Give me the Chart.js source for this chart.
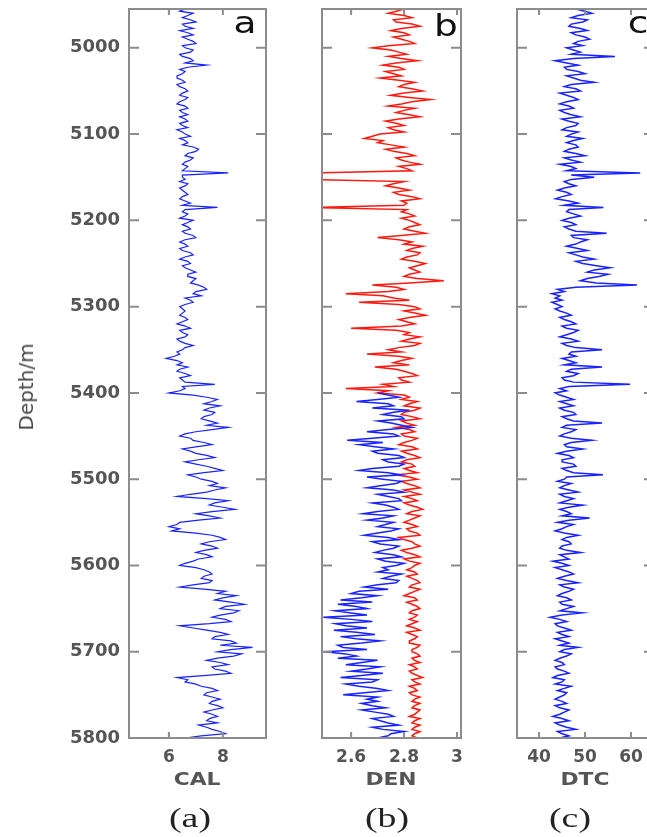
<!DOCTYPE html>
<html>
<head>
<meta charset="utf-8">
<script src="https://cdn.jsdelivr.net/npm/chart.js@4.4.1/dist/chart.umd.min.js"></script>
<style>
html,body{margin:0;padding:0;background:#fff;}
body{width:647px;height:837px;overflow:hidden;position:relative;}
canvas{position:absolute;top:0;}
.t{position:absolute;white-space:nowrap;line-height:1;}
.ax{font-family:"DejaVu Sans";font-weight:bold;font-size:17px;color:#555;transform:translate(-50%,-50%) scaleX(1.28);}
.cap{font-family:"Liberation Serif";font-size:27px;color:#222;transform:translate(-50%,-50%) scaleX(1.4);}
</style>
</head>
<body>
<canvas id="ca" style="left:0px;width:276px;height:837px" width="276" height="837"></canvas>
<canvas id="cb" style="left:312px;width:160px;height:837px" width="160" height="837"></canvas>
<canvas id="cc" style="left:507px;width:160px;height:837px" width="160" height="837"></canvas>

<div class="t" style="left:26px;top:387px;font-family:'DejaVu Sans';font-size:20px;color:#444;transform:translate(-50%,-50%) rotate(-90deg);">Depth/m</div>
<div class="t ax" style="left:197px;top:779px;">CAL</div>
<div class="t ax" style="left:391px;top:779px;">DEN</div>
<div class="t ax" style="left:585px;top:779px;">DTC</div>
<div class="t cap" style="left:190px;top:818px;">(a)</div>
<div class="t cap" style="left:387px;top:818px;">(b)</div>
<div class="t cap" style="left:570px;top:818px;">(c)</div>

<script>
// ---------------- DATA ----------------
// sample depths (m), 5 m grid; readings between two samples are in the *Mid arrays
const depth = [
4955,4960,4965,4970,4975,4980,4985,4990,4995,5000,
5005,5010,5015,5020,5025,5030,5035,5040,5045,5050,
5055,5060,5065,5070,5075,5080,5085,5090,5095,5100,
5105,5110,5115,5120,5125,5130,5135,5140,5145,5150,
5155,5160,5165,5170,5175,5180,5185,5190,5195,5200,
5205,5210,5215,5220,5225,5230,5235,5240,5245,5250,
5255,5260,5265,5270,5275,5280,5285,5290,5295,5300,
5305,5310,5315,5320,5325,5330,5335,5340,5345,5350,
5355,5360,5365,5370,5375,5380,5385,5390,5395,5400,
5405,5410,5415,5420,5425,5430,5435,5440,5445,5450,
5455,5460,5465,5470,5475,5480,5485,5490,5495,5500,
5505,5510,5515,5520,5525,5530,5535,5540,5545,5550,
5555,5560,5565,5570,5575,5580,5585,5590,5595,5600,
5605,5610,5615,5620,5625,5630,5635,5640,5645,5650,
5655,5660,5665,5670,5675,5680,5685,5690,5695,5700,
5705,5710,5715,5720,5725,5730,5735,5740,5745,5750,
5755,5760,5765,5770,5775,5780,5785,5790,5795,5800
];

const cal = [
6.6,6.9,6.5,7.0,6.6,6.4,6.9,6.7,7.0,6.6,
6.8,6.5,6.9,7.4,6.4,6.5,6.3,6.6,6.4,6.7,
6.4,6.6,6.3,6.7,6.5,6.4,6.7,6.5,6.3,6.6,
6.4,6.7,6.9,7.0,6.6,6.8,6.5,6.6,8.2,6.5,
6.4,6.6,6.5,6.7,6.4,6.8,7.8,6.5,6.6,6.9,
6.5,6.8,6.6,7.0,6.4,6.7,6.5,6.9,6.4,6.8,
6.6,7.0,6.7,6.9,7.1,7.4,6.9,6.6,6.9,6.4,
6.6,6.4,6.7,6.3,6.8,6.5,6.6,6.4,6.9,6.5,
6.4,5.9,6.5,6.7,6.3,6.8,6.5,7.7,6.6,6.0,
7.4,7.6,7.9,7.3,7.6,7.2,7.8,8.2,7.0,6.4,
6.9,7.6,6.5,7.0,7.7,6.6,7.4,8.0,6.7,7.2,
7.8,8.1,7.4,6.3,8.2,7.5,8.45,7.0,7.9,6.4,
6.0,6.1,7.6,8.1,7.2,7.8,7.0,7.6,6.9,6.4,
7.3,7.6,7.2,7.5,6.4,8.1,8.5,7.7,8.8,7.9,
8.4,7.6,8.3,6.4,7.4,8.2,7.6,8.5,9.1,7.8,
8.4,7.4,8.2,7.7,8.3,6.3,6.6,7.2,7.8,7.3,
7.9,7.5,8.0,7.3,7.8,7.4,7.1,7.6,8.1,6.6
];
const calMid = [
6.4,6.7,6.8,6.5,6.9,6.7,6.5,6.9,6.5,6.9,
6.4,6.8,6.6,6.7,6.6,6.3,6.5,6.3,6.6,6.5,
6.7,6.4,6.6,6.4,6.7,6.6,6.4,6.7,6.5,6.8,
6.6,6.5,7.1,6.7,6.9,6.6,6.7,6.5,6.5,6.6,
6.7,6.4,6.6,6.5,6.6,6.5,6.6,6.7,6.4,6.7,
6.7,6.5,6.9,6.6,6.6,6.4,6.8,6.6,6.7,6.5,
6.8,6.7,7.0,6.8,7.3,7.0,7.2,6.8,6.6,6.5,
6.5,6.6,6.5,6.6,6.4,6.7,6.3,6.6,6.6,6.3,
6.2,6.3,6.3,6.4,6.6,6.4,6.6,6.5,6.4,6.9,
7.8,7.3,7.5,7.7,7.3,7.5,7.4,7.6,6.6,6.8,
7.3,7.0,6.8,7.4,7.1,7.0,7.7,7.3,7.0,7.6,
7.5,7.7,6.8,7.4,7.7,8.0,7.6,7.5,7.1,6.3,
6.4,7.0,7.9,7.5,7.6,7.3,7.4,7.1,6.6,7.0,
7.5,7.3,7.6,6.9,7.3,7.8,8.0,8.3,8.1,8.6,
7.9,8.1,7.5,6.9,7.9,7.7,8.3,7.9,8.3,8.7,
7.8,7.9,7.6,8.1,7.4,6.7,7.0,7.6,7.4,7.6,
7.6,7.8,7.6,7.6,7.5,7.8,7.4,7.9,7.2
];

const denRed = [
2.80,2.74,2.83,2.77,2.86,2.75,2.82,2.79,2.84,2.68,
2.78,2.74,2.85,2.72,2.80,2.76,2.71,2.84,2.78,2.87,
2.75,2.90,2.79,2.84,2.77,2.86,2.73,2.80,2.76,2.71,
2.65,2.70,2.80,2.76,2.84,2.79,2.86,2.81,2.45,2.45,
2.80,2.73,2.82,2.78,2.86,2.81,2.45,2.79,2.84,2.82,
2.86,2.80,2.88,2.70,2.83,2.87,2.81,2.85,2.79,2.88,
2.82,2.86,2.80,2.95,2.68,2.80,2.58,2.76,2.63,2.84,
2.80,2.88,2.78,2.84,2.60,2.82,2.86,2.79,2.84,2.74,
2.66,2.83,2.76,2.69,2.80,2.85,2.79,2.72,2.58,2.70,
2.82,2.85,2.80,2.84,2.79,2.86,2.81,2.77,2.84,2.80,
2.83,2.78,2.85,2.81,2.86,2.79,2.84,2.82,2.77,2.85,
2.81,2.86,2.83,2.80,2.85,2.82,2.87,2.81,2.84,2.80,
2.85,2.82,2.86,2.80,2.84,2.83,2.81,2.86,2.82,2.84,
2.81,2.85,2.83,2.86,2.82,2.84,2.80,2.85,2.83,2.86,
2.82,2.84,2.85,2.81,2.86,2.83,2.84,2.82,2.85,2.83,
2.86,2.84,2.82,2.85,2.83,2.87,2.84,2.82,2.85,2.83,
2.84,2.86,2.83,2.85,2.82,2.84,2.86,2.83,2.84,2.85
];
const denRedMid = [
2.77,2.80,2.76,2.83,2.79,2.80,2.76,2.82,2.74,2.75,
2.81,2.79,2.77,2.78,2.73,2.79,2.78,2.80,2.83,2.80,
2.82,2.83,2.74,2.80,2.82,2.78,2.77,2.74,2.80,2.68,
2.72,2.75,2.73,2.81,2.77,2.82,2.78,2.83,2.45,2.45,
2.76,2.78,2.76,2.83,2.79,2.80,2.81,2.82,2.79,2.84,
2.82,2.84,2.79,2.78,2.80,2.83,2.86,2.81,2.84,2.85,
2.84,2.82,2.85,2.82,2.77,2.74,2.72,2.82,2.78,2.86,
2.84,2.82,2.81,2.79,2.77,2.80,2.82,2.86,2.78,2.79,
2.78,2.79,2.82,2.77,2.83,2.78,2.82,2.76,2.74,2.80,
2.79,2.82,2.86,2.80,2.83,2.79,2.84,2.82,2.79,2.85,
2.80,2.83,2.79,2.84,2.81,2.83,2.80,2.85,2.82,2.79,
2.84,2.80,2.86,2.83,2.80,2.85,2.83,2.86,2.82,2.83,
2.81,2.85,2.78,2.83,2.86,2.79,2.84,2.80,2.86,2.83,
2.84,2.81,2.85,2.83,2.86,2.82,2.84,2.81,2.85,2.83,
2.85,2.82,2.83,2.84,2.81,2.85,2.82,2.86,2.83,2.85,
2.83,2.86,2.84,2.82,2.85,2.83,2.86,2.84,2.82,2.86,
2.83,2.84,2.86,2.84,2.86,2.83,2.84,2.86,2.83
];

// blue density curve starts at 5400 m
const denBlueStartDepth = 5400;
const denBlue = [
2.70,
2.78,2.62,2.76,2.82,2.72,2.80,2.75,2.83,2.66,2.78,
2.585,2.63,2.76,2.70,2.80,2.74,2.78,2.63,2.79,2.72,
2.77,2.66,2.80,2.74,2.79,2.73,2.78,2.645,2.72,2.76,
2.70,2.75,2.65,2.78,2.71,2.76,2.69,2.79,2.73,2.77,
2.74,2.79,2.72,2.77,2.65,2.63,2.70,2.56,2.55,2.66,
2.60,2.495,2.68,2.58,2.535,2.69,2.62,2.64,2.57,2.50,
2.62,2.70,2.58,2.66,2.72,2.56,2.68,2.63,2.74,2.57,
2.66,2.64,2.73,2.69,2.76,2.71,2.78,2.72,2.75,2.70
];
const denBlueMid = [
2.74,
2.70,2.74,2.68,2.76,2.79,2.70,2.79,2.74,2.76,2.68,
2.72,2.69,2.68,2.78,2.72,2.80,2.68,2.74,2.66,2.79,
2.71,2.76,2.70,2.78,2.68,2.76,2.70,2.76,2.66,2.73,
2.78,2.70,2.74,2.68,2.78,2.72,2.76,2.70,2.80,2.72,
2.70,2.75,2.78,2.70,2.74,2.60,2.64,2.68,2.62,2.54,
2.66,2.60,2.54,2.66,2.62,2.56,2.71,2.55,2.66,2.58,
2.55,2.64,2.71,2.60,2.64,2.70,2.58,2.70,2.65,2.70,
2.70,2.68,2.64,2.74,2.68,2.74,2.68,2.80,2.74
];

const dtc = [
48.0,51.5,47.0,49.5,46.5,50.5,48.0,51.0,47.5,46.0,
49.0,56.5,43.5,48.5,46.0,50.0,47.5,52.0,45.5,49.0,
46.0,48.5,44.5,47.5,45.5,49.0,46.5,48.0,45.0,47.0,
49.5,46.0,48.5,45.5,50.0,47.0,44.5,48.0,62.0,52.0,
45.5,48.0,44.0,47.0,43.6,48.5,54.0,46.0,49.0,45.0,
48.0,46.5,54.7,47.5,49.0,46.0,50.5,48.0,52.0,49.5,
55.5,50.5,53.0,49.0,61.3,44.0,42.8,43.5,42.8,45.0,
44.5,47.0,45.5,48.0,46.0,47.5,44.5,48.5,46.0,53.7,
46.5,45.0,48.0,53.7,46.0,47.5,45.5,59.8,44.5,43.5,
46.0,44.5,47.5,45.5,48.0,46.0,53.7,45.0,47.0,44.5,
51.5,45.5,49.5,44.0,47.5,45.0,48.0,46.0,53.9,45.5,
47.0,44.5,48.5,45.5,46.0,49.5,44.5,47.0,51.0,44.0,
46.0,43.5,48.5,45.0,47.0,44.5,49.0,45.5,43.0,46.5,
45.0,47.5,44.0,48.5,45.5,46.5,44.0,47.0,45.0,46.0,
49.4,42.4,46.0,44.0,47.0,45.0,43.5,46.5,48.5,44.5,
46.0,43.5,45.5,44.0,46.5,43.0,45.0,47.0,44.0,45.5,
43.5,46.0,44.5,45.5,43.0,46.5,44.5,48.0,45.0,44.5
];
const dtcMid = [
50.0,48.5,50.5,47.0,49.0,47.0,50.0,48.5,49.5,47.5,
47.0,47.5,46.0,45.5,48.5,46.0,49.0,47.0,48.0,44.5,
47.5,46.0,46.5,44.5,47.0,45.0,48.5,46.0,48.5,46.0,
47.5,48.0,46.5,48.0,45.5,49.0,47.0,46.0,47.0,47.0,
46.5,45.5,46.0,45.0,46.5,45.5,46.5,47.5,46.5,47.0,
45.5,48.0,47.0,50.5,48.0,48.5,46.5,49.5,48.0,52.5,
52.0,55.0,50.5,52.5,48.0,45.5,44.5,45.0,44.0,43.5,
46.0,44.5,47.0,45.0,48.5,46.0,47.0,45.0,48.0,47.0,
48.0,46.5,45.5,47.0,48.5,45.0,47.5,46.5,46.0,44.5,
47.5,46.0,44.5,47.5,45.0,47.5,46.0,48.0,45.5,47.0,
47.0,46.0,46.0,46.5,45.0,47.5,45.0,47.5,46.0,44.0,
45.5,46.5,44.5,47.5,44.5,46.5,46.0,45.0,46.5,47.5,
45.0,45.5,46.0,46.5,45.0,46.0,44.5,46.5,45.0,43.5,
46.5,45.5,46.0,44.5,47.5,45.0,46.0,44.5,47.5,44.5,
45.0,44.5,43.5,45.5,44.0,46.5,45.0,44.5,45.5,47.0,
44.5,45.0,43.5,45.5,44.0,45.5,43.5,45.5,46.0,44.5,
45.0,43.5,46.5,44.5,45.0,43.5,46.0,44.0,46.5
];

const depthTicks = [5000,5100,5200,5300,5400,5500,5600,5700,5800];
const calTicks = [6,8];
const denTicks = [2.6,2.8,3];
const dtcTicks = [40,50,60];

// ---------------- CHARTS ----------------
const BLUE = 'rgb(25,35,255)';
const RED = 'rgb(255,25,15)';
const FRAME = '#8c8c8c';

// merge grid samples and in-between samples into one depth-ordered list of points
function pts(vals, mids, depths){
  const out = [];
  vals.forEach((v,i)=>{
    out.push({x:v, y:depths[i]});
    if (i < vals.length-1) out.push({x:mids[i], y:(depths[i]+depths[i+1])/2});
  });
  return out;
}

const frameTicks = {
  id:'frameTicks',
  afterDatasetsDraw(chart, args, o){
    const {ctx, chartArea:a, scales:{x,y}} = chart;
    ctx.save();
    ctx.strokeStyle = FRAME; ctx.lineWidth = 2;
    ctx.beginPath();
    o.xt.forEach(v=>{const p=x.getPixelForValue(v); ctx.moveTo(p,a.top); ctx.lineTo(p,a.top+6); ctx.moveTo(p,a.bottom); ctx.lineTo(p,a.bottom-6);});
    o.yt.forEach(v=>{const p=y.getPixelForValue(v); ctx.moveTo(a.left,p); ctx.lineTo(a.left+10,p); ctx.moveTo(a.right,p); ctx.lineTo(a.right-10,p);});
    ctx.stroke();
    ctx.strokeRect(a.left,a.top,a.right-a.left,a.bottom-a.top);
    ctx.fillStyle='#111'; ctx.font='30px "DejaVu Sans"'; ctx.textAlign='center'; ctx.textBaseline='alphabetic';
    ctx.translate(o.lx,o.ly); ctx.scale(1.25,1);
    ctx.fillText(o.letter,0,0);
    ctx.restore();
  }
};

const tickFont = {family:'DejaVu Sans', size:17, weight:'bold'};

function makeChart(id, datasets, xmin, xmax, xticks, showY, pad, letter, lx, ly){
  return new Chart(document.getElementById(id), {
    type:'scatter',
    data:{datasets},
    plugins:[frameTicks],
    options:{
      responsive:false, animation:false, devicePixelRatio:1,
      layout:{padding:pad},
      plugins:{legend:{display:false}, tooltip:{enabled:false},
        frameTicks:{xt:xticks, yt:depthTicks, letter, lx, ly}},
      scales:{
        x:{type:'linear', min:xmin, max:xmax,
          afterBuildTicks:s=>{s.ticks = xticks.map(v=>({value:v}));},
          afterFit:s=>{s.height = 99; s.paddingLeft = 0; s.paddingRight = 0;},
          grid:{display:false, drawTicks:false}, border:{display:false},
          ticks:{padding:9, color:'#555', font:tickFont, maxRotation:0, autoSkip:false, callback:v=>String(v)}},
        y:{type:'linear', reverse:true, min:4955, max:5800, display:showY,
          afterBuildTicks:s=>{s.ticks = depthTicks.map(v=>({value:v}));},
          afterFit:s=>{s.width = showY ? 129 : 0; s.paddingTop = 0; s.paddingBottom = 0;},
          grid:{display:false, drawTicks:false}, border:{display:false},
          ticks:{padding:9, color:'#555', font:{family:'DejaVu Sans', size:18, weight:'bold'}, autoSkip:false, callback:v=>String(v)}}
      }
    }
  });
}

const lineDs = (data, color, w) => ({data, borderColor:color, backgroundColor:color, showLine:true, pointRadius:0, borderWidth:w, tension:0});

makeChart('ca', [lineDs(pts(cal, calMid, depth), BLUE, 1.2)], 4.52, 9.6, calTicks, true,
  {top:9, right:10, bottom:0, left:0}, 'a', 245, 33);

const blueDepths = depth.slice(depth.indexOf(denBlueStartDepth));
makeChart('cb', [lineDs(pts(denBlue, denBlueMid, blueDepths), BLUE, 1.5), lineDs(pts(denRed, denRedMid, depth), RED, 1.5)], 2.49, 3.015, denTicks, false,
  {top:9, right:11, bottom:0, left:10}, 'b', 134, 36);

makeChart('cc', [lineDs(pts(dtc, dtcMid, depth), BLUE, 1.5)], 35.2, 65, dtcTicks, false,
  {top:9, right:13, bottom:0, left:10}, 'c', 131, 33);
</script>
</body>
</html>
